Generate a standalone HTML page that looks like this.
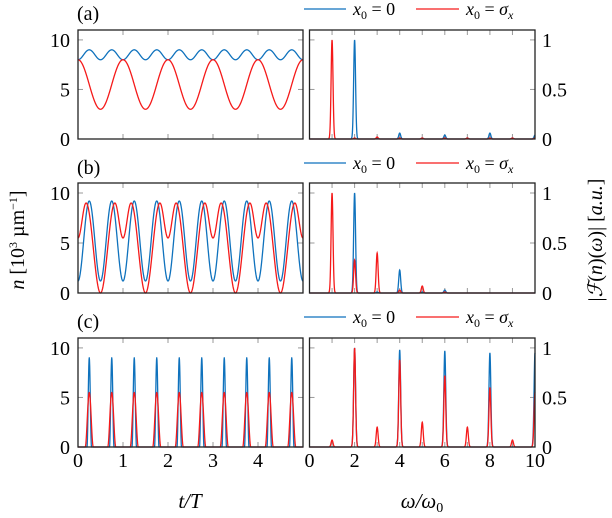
<!DOCTYPE html>
<html><head><meta charset="utf-8"><style>
body{margin:0;background:#fff;}
svg{display:block;font-family:"Liberation Serif",serif;}
</style></head><body>
<svg id="fig" width="612" height="518" viewBox="0 0 612 518" xmlns="http://www.w3.org/2000/svg"></svg>
<script>
// ---- data ----
const panelLabels = ["(a)","(b)","(c)"];
const leftYTicks = [0,5,10];
const leftXTicks = [0,1,2,3,4];
const rightYTicks = [0,0.5,1];
const rightYTickLabels = ["0","0.5","1"];
const rightXTicks = [0,2,4,6,8,10];
// time-domain keypoints (one period, then repeated)
const aBlueT = [0,0.25,0.5];        const aBlueV = [8,9,8];
const aRedT  = [0,0.5,1];           const aRedV  = [8,3,8];
const bBlueT = [0,0.25,0.5];        const bBlueV = [1.2,9.2,1.2];
const bRedT  = [0,0.18,0.5,0.82,1]; const bRedV  = [5.5,9,0,9,5.5];
const cBlueT = [0,0.2,0.25,0.3,0.5];   const cBlueV = [0,0,9,0,0];
const cRedT  = [0,0.16,0.25,0.34,0.5]; const cRedV  = [0,0,5.5,0,0];
// spectra: peak heights at harmonics 0..10
const harmonics = [0,1,2,3,4,5,6,7,8,9,10];
const aBlueSpec = [0,0,1,0.01,0.06,0.01,0.04,0.01,0.06,0.01,0.04];
const aRedSpec  = [0,1,0.01,0.02,0.01,0.01,0.01,0.01,0.01,0.01,0.01];
const bBlueSpec = [0,0,1,0.01,0.23,0.01,0.03,0,0,0,0];
const bRedSpec  = [0,1,0.33,0.4,0.03,0.07,0.01,0,0,0,0];
const cBlueSpec = [0,0,1,0,0.98,0,0.97,0,0.95,0,0.95];
const cRedSpec  = [0,0.07,1,0.2,0.88,0.25,0.72,0.2,0.6,0.07,0.55];

const NS="http://www.w3.org/2000/svg";
const svg=document.getElementById('fig');
function mk(tag,attrs,parent){const e=document.createElementNS(NS,tag);for(const k in attrs)e.setAttribute(k,attrs[k]);(parent||svg).appendChild(e);return e;}
const BLUE="#0f72bd", RED="#f51a1a";
const panels=[
 {top:30,bot:139,ly:13,bt:aBlueT,bv:aBlueV,rt:aRedT,rv:aRedV,bs:aBlueSpec,rs:aRedSpec,name:"a"},
 {top:183,bot:293,ly:167,bt:bBlueT,bv:bBlueV,rt:bRedT,rv:bRedV,bs:bBlueSpec,rs:bRedSpec,name:"b"},
 {top:338,bot:447,ly:321,bt:cBlueT,bv:cBlueV,rt:cRedT,rv:cRedV,bs:cBlueSpec,rs:cRedSpec,name:"c"}];
const LX0=78,LX1=303,RX0=309.5,RX1=535;
panels.forEach((p,i)=>{
  const ys=v=>p.bot-(v/11)*(p.bot-p.top);
  const xl=t=>LX0+t/5*(LX1-LX0);
  const xr=w=>RX0+w/10*(RX1-RX0);
  const ysr=v=>p.bot-(v/1.1)*(p.bot-p.top);
  const g=mk('g',{});  
  const lab=mk('text',{x:77,y:p.ly+7,'font-size':20},g); lab.textContent=panelLabels[i];
   
  const lg=mk('g',{},g);  
  mk('line',{x1:304,x2:346,y1:p.ly-4,y2:p.ly-4,stroke:BLUE,'stroke-width':1.3},lg);
  const t1=mk('text',{x:353,y:p.ly+2,'font-size':18,'font-style':'italic'},lg); t1.innerHTML='x<tspan font-size="12" dy="4" font-style="normal">0</tspan><tspan dy="-4" font-style="normal"> = 0</tspan>';
  mk('line',{x1:416,x2:459,y1:p.ly-4,y2:p.ly-4,stroke:RED,'stroke-width':1.3},lg);
  const t2=mk('text',{x:466,y:p.ly+2,'font-size':18,'font-style':'italic'},lg); t2.innerHTML='x<tspan font-size="12" dy="4" font-style="normal">0</tspan><tspan dy="-4" font-style="normal"> = </tspan>σ<tspan font-size="12" dy="4">x</tspan>';
  leftXTicks.concat([5]).forEach(t=>{const x=xl(t);mk('line',{x1:x,x2:x,y1:p.top,y2:p.top+5,stroke:'#999'},g);mk('line',{x1:x,x2:x,y1:p.bot,y2:p.bot-5,stroke:'#999'},g);});
  leftYTicks.forEach(v=>{const y=ys(v);mk('line',{x1:LX0,x2:LX0+5,y1:y,y2:y,stroke:'#999'},g);mk('line',{x1:LX1,x2:LX1-5,y1:y,y2:y,stroke:'#999'},g);
    const tt=mk('text',{x:70,y:y+7,'font-size':20,'text-anchor':'end'},g);tt.textContent=v;});
  harmonics.forEach(w=>{const x=xr(w);mk('line',{x1:x,x2:x,y1:p.top,y2:p.top+5,stroke:'#999'},g);mk('line',{x1:x,x2:x,y1:p.bot,y2:p.bot-5,stroke:'#999'},g);});
  rightYTicks.forEach((v,k)=>{const y=ysr(v);mk('line',{x1:RX0,x2:RX0+5,y1:y,y2:y,stroke:'#999'},g);mk('line',{x1:RX1,x2:RX1-5,y1:y,y2:y,stroke:'#999'},g);
    const tt=mk('text',{x:542,y:y+7,'font-size':20},g);tt.textContent=rightYTickLabels[k];});
  function series(T,V,col,nm){
    const per=T[T.length-1];let pts=[];
    for(let s=0;s<=1000;s++){const t=5*s/1000;let tm=t%per;let k=0;while(k<T.length-2&&tm>T[k+1])k++;
      const f=(tm-T[k])/(T[k+1]-T[k]);const c=(1-Math.cos(Math.PI*f))/2;const v=V[k]+(V[k+1]-V[k])*c;
      pts.push(xl(t).toFixed(2)+','+ys(v).toFixed(2));}
    const pl=mk('polyline',{points:pts.join(' '),fill:'none',stroke:col,'stroke-width':1.3,'stroke-linejoin':'round'},g);
    }
  series(p.bt,p.bv,BLUE,'time-series-blue-'+p.name);
  series(p.rt,p.rv,RED,'time-series-red-'+p.name);
  function spec(H,col,nm){let pts=[];
    for(let s=0;s<=1500;s++){const w=10*s/1500;let v=0;harmonics.forEach((h,k)=>{v+=H[k]*Math.exp(-Math.pow((w-h)/0.06,2));});
      pts.push(xr(w).toFixed(2)+','+ysr(v).toFixed(2));}
    const pl=mk('polyline',{points:pts.join(' '),fill:'none',stroke:col,'stroke-width':1.3},g);
    }
  spec(p.bs,BLUE,'spectrum-blue-'+p.name);
  spec(p.rs,RED,'spectrum-red-'+p.name);
  mk('rect',{x:LX0,y:p.top,width:LX1-LX0,height:p.bot-p.top,fill:'none',stroke:'#222','stroke-width':1.3},g);
  mk('rect',{x:RX0,y:p.top,width:RX1-RX0,height:p.bot-p.top,fill:'none',stroke:'#222','stroke-width':1.3},g);
  if(i===2){
    leftXTicks.forEach(t=>{const tt=mk('text',{x:xl(t),y:467,'font-size':20,'text-anchor':'middle'},g);tt.textContent=t;});
    rightXTicks.forEach(w=>{const tt=mk('text',{x:xr(w),y:467,'font-size':20,'text-anchor':'middle'},g);tt.textContent=w;});
  }
});
</script>
<script>
const s2=document.getElementById('fig');
function tx(html,attrs,name){const e=document.createElementNS("http://www.w3.org/2000/svg",'text');for(const k in attrs)e.setAttribute(k,attrs[k]);e.innerHTML=html;


s2.appendChild(e);}
tx('t/T',{x:190,y:508,'font-size':21,'font-style':'italic','text-anchor':'middle'},'x-axis-title-left');
tx('ω/ω<tspan font-size="14" dy="4" font-style="normal">0</tspan>',{x:422,y:508,'font-size':21,'font-style':'italic','text-anchor':'middle'},'x-axis-title-right');
tx('<tspan font-style="italic">n</tspan> [10<tspan font-size="12" dy="-7">3</tspan><tspan dy="7"> µm</tspan><tspan font-size="12" dy="-7">−1</tspan><tspan dy="7">]</tspan>',{x:0,y:0,'font-size':20,'text-anchor':'middle',transform:'translate(24,240) rotate(-90)'},'y-axis-title-left');
tx('|<tspan font-style="italic">ℱ</tspan>(<tspan font-style="italic">n</tspan>)(<tspan font-style="italic">ω</tspan>)| [<tspan font-style="italic">a.u.</tspan>]',{x:0,y:0,'font-size':20,'text-anchor':'middle',transform:'translate(602,240) rotate(-90)'},'y-axis-title-right');
</script>
</body></html>
